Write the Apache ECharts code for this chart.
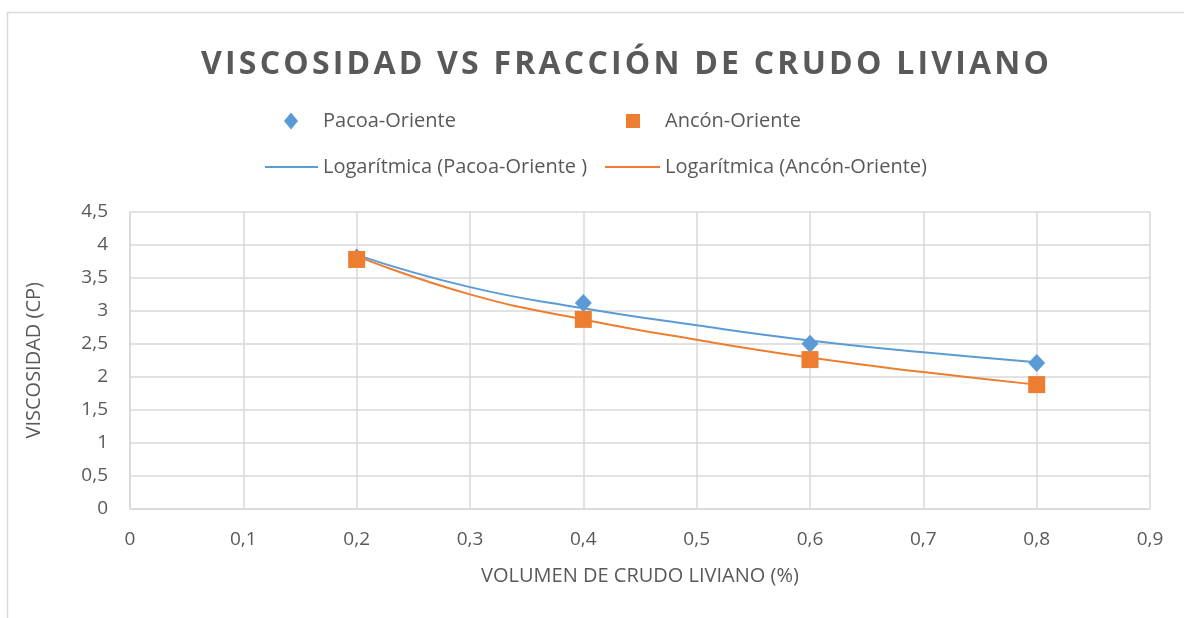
<!DOCTYPE html>
<html>
<head>
<meta charset="utf-8">
<script src="https://cdn.jsdelivr.net/npm/echarts@6/dist/echarts.min.js"></script>
<style>
  html, body { margin: 0; padding: 0; background: #fff; }
  #chart { width: 1184px; height: 618px; }
</style>
</head>
<body>
<div id="chart"></div>
<script>
// datos medidos
var fraccion = [0.2, 0.4, 0.6, 0.8];
var pacoa = [3.81, 3.12, 2.50, 2.21];
var ancon = [3.78, 2.87, 2.26, 1.88];

// lineas de tendencia
var tendX = [0.2, 0.3, 0.4, 0.5, 0.6, 0.7, 0.8];
var tendPacoa = [3.85, 3.36, 3.04, 2.78, 2.55, 2.37, 2.22];
var tendAncon = [3.83, 3.25, 2.87, 2.56, 2.29, 2.07, 1.88];

var xTicks = ['0', '0,1', '0,2', '0,3', '0,4', '0,5', '0,6', '0,7', '0,8', '0,9'];

var titulo = 'VISCOSIDAD VS FRACCIÓN DE CRUDO LIVIANO';

function pares(xs, ys) {
  var out = [];
  for (var i = 0; i < xs.length; i++) {
    out.push([xs[i], ys[i]]);
  }
  return out;
}

// espaciado entre letras del titulo (hair space)
function espaciar(s) {
  return s.split('').join('\u200A');
}

var azul = '#5B9BD5';
var naranja = '#ED7D31';
var gris = '#595959';
var fuente = 'Open Sans';

var legendText = { color: gris, fontSize: 20, fontFamily: fuente };

var myChart = echarts.init(document.getElementById('chart'));

myChart.setOption({
  animation: false,
  graphic: [{
    type: 'rect',
    shape: { x: 7.5, y: 12.5, width: 1250, height: 700 },
    style: { fill: 'none', stroke: '#d9d9d9', lineWidth: 1.5 },
    silent: true
  }],
  title: {
    text: espaciar(titulo),
    left: 196,
    top: 44,
    textStyle: {
      color: gris,
      fontSize: 32,
      fontWeight: 'bold',
      fontFamily: fuente
    }
  },
  legend: [{
    data: [{ name: 'Pacoa-Oriente', icon: 'diamond' }],
    left: 279,
    top: 106,
    itemWidth: 14,
    itemHeight: 17,
    textStyle: { color: gris, fontSize: 20, fontFamily: fuente, padding: [0, 0, 0, 20] }
  }, {
    data: [{ name: 'Ancón-Oriente', icon: 'rect' }],
    left: 621,
    top: 106,
    itemWidth: 14,
    itemHeight: 14,
    textStyle: { color: gris, fontSize: 20, fontFamily: fuente, padding: [0, 0, 0, 20] }
  }, {
    data: [{ name: 'Logarítmica (Pacoa-Oriente )', icon: 'rect' }],
    left: 260,
    top: 152,
    itemWidth: 53,
    itemHeight: 2,
    textStyle: legendText
  }, {
    data: [{ name: 'Logarítmica (Ancón-Oriente)', icon: 'rect' }],
    left: 600,
    top: 152,
    itemWidth: 55,
    itemHeight: 2,
    textStyle: legendText
  }],
  grid: {
    left: 130,
    right: 34,
    top: 212,
    bottom: 109.5
  },
  xAxis: {
    type: 'value',
    min: 0,
    max: 0.9,
    interval: 0.1,
    name: 'VOLUMEN DE CRUDO LIVIANO (%)',
    nameLocation: 'middle',
    nameGap: 58,
    nameTextStyle: { color: gris, fontSize: 20, fontFamily: fuente },
    axisLine: { show: true, lineStyle: { color: '#d9d9d9', width: 1.5 } },
    axisTick: { show: false },
    axisLabel: {
      color: gris,
      fontSize: 19,
      fontFamily: fuente,
      margin: 22,
      formatter: function (v) {
        return xTicks[Math.round(v * 10)];
      }
    },
    splitLine: { show: true, lineStyle: { color: '#d9d9d9', width: 1.5 } }
  },
  yAxis: {
    type: 'value',
    min: 0,
    max: 4.5,
    interval: 0.5,
    name: 'VISCOSIDAD (CP)',
    nameLocation: 'middle',
    nameGap: 86,
    nameTextStyle: { color: gris, fontSize: 20, fontFamily: fuente },
    axisLine: { show: true, lineStyle: { color: '#d9d9d9', width: 1.5 } },
    axisTick: { show: false },
    axisLabel: {
      color: gris,
      fontSize: 19,
      fontFamily: fuente,
      margin: 22,
      formatter: function (v) {
        return String(v).replace('.', ',');
      }
    },
    splitLine: { show: true, lineStyle: { color: '#d9d9d9', width: 1.5 } }
  },
  series: [{
    name: 'Logarítmica (Pacoa-Oriente )',
    type: 'line',
    data: pares(tendX, tendPacoa),
    smooth: true,
    showSymbol: false,
    symbol: 'none',
    itemStyle: { color: azul },
    lineStyle: { color: azul, width: 2 },
    z: 2
  }, {
    name: 'Logarítmica (Ancón-Oriente)',
    type: 'line',
    data: pares(tendX, tendAncon),
    smooth: true,
    showSymbol: false,
    symbol: 'none',
    itemStyle: { color: naranja },
    lineStyle: { color: naranja, width: 2 },
    z: 2
  }, {
    name: 'Pacoa-Oriente',
    type: 'scatter',
    symbol: 'diamond',
    symbolSize: [17, 18],
    data: pares(fraccion, pacoa),
    itemStyle: { color: azul, opacity: 1 },
    z: 3
  }, {
    name: 'Ancón-Oriente',
    type: 'scatter',
    symbol: 'rect',
    symbolSize: 17,
    data: pares(fraccion, ancon),
    itemStyle: { color: naranja, opacity: 1 },
    z: 4
  }]
});
</script>
</body>
</html>
